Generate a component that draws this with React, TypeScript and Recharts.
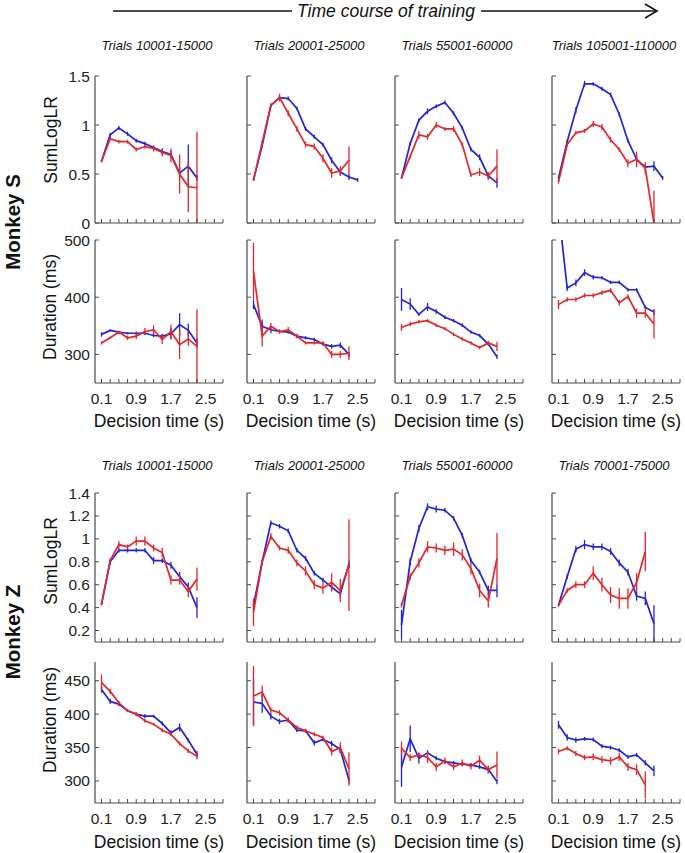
import React from 'react'
import { LineChart, Line, XAxis, YAxis, ErrorBar } from 'recharts'

// ── Style constants ───────────────────────────────────────────────────────────

const FONT = '"Liberation Sans", Arial, Helvetica, sans-serif'
const BLUE = '#2323d8'
const RED = '#e4262b'
const AXIS = '#4a4a4a'

// ── Data ──────────────────────────────────────────────────────────────────────

const DECISION_T = [0.1, 0.3, 0.5, 0.7, 0.9, 1.1, 1.3, 1.5, 1.7, 1.9, 2.1, 2.3, 2.5]
const X_TICKS = [0.1, 0.3, 0.5, 0.7, 0.9, 1.1, 1.3, 1.5, 1.7, 1.9, 2.1, 2.3, 2.5, 2.7, 2.9]
const X_LABELED = [0.1, 0.9, 1.7, 2.5]

const TRIALS_S = ['Trials 10001-15000', 'Trials 20001-25000', 'Trials 55001-60000', 'Trials 105001-110000']
const TRIALS_Z = ['Trials 10001-15000', 'Trials 20001-25000', 'Trials 55001-60000', 'Trials 70001-75000']

const LLR_S_TICKS = [0, 0.5, 1, 1.5]
const DUR_S_TICKS = [300, 400, 500]
const LLR_Z_TICKS = [0.2, 0.4, 0.6, 0.8, 1, 1.2, 1.4]
const DUR_Z_TICKS = [300, 350, 400, 450]

// Monkey S — SumLogLR (one array per column)
const S_LLR_BLUE = [
  [0.63, 0.9, 0.97, 0.91, 0.84, 0.81, 0.77, 0.73, 0.7, 0.51, 0.58, 0.46],
  [0.44, 0.79, 1.2, 1.28, 1.27, 1.17, 0.96, 0.88, 0.8, 0.64, 0.52, 0.47, 0.44],
  [0.46, 0.81, 1.05, 1.14, 1.19, 1.23, 1.12, 0.97, 0.75, 0.67, 0.48, 0.41],
  [0.46, 0.83, 1.15, 1.42, 1.42, 1.37, 1.31, 1.11, 0.84, 0.65, 0.57, 0.58, 0.46],
]
const S_LLR_BLUE_ERR = [
  [0.01, 0.02, 0.02, 0.02, 0.02, 0.02, 0.02, 0.03, 0.04, 0.06, 0.22, 0.03],
  [0.01, 0.02, 0.02, 0.02, 0.02, 0.02, 0.02, 0.02, 0.02, 0.03, 0.03, 0.03, 0.02],
  [0.01, 0.02, 0.02, 0.03, 0.02, 0.02, 0.02, 0.02, 0.02, 0.03, 0.03, 0.05],
  [0.01, 0.02, 0.03, 0.03, 0.02, 0.02, 0.02, 0.02, 0.02, 0.03, 0.03, 0.05, 0.02],
]
const S_LLR_RED = [
  [0.63, 0.86, 0.83, 0.83, 0.75, 0.78, 0.76, 0.72, 0.69, 0.5, 0.37, 0.36],
  [0.44, 0.82, 1.2, 1.28, 1.12, 0.96, 0.8, 0.78, 0.66, 0.51, 0.53, 0.64],
  [0.46, 0.68, 0.9, 0.88, 1.0, 0.96, 0.96, 0.8, 0.49, 0.52, 0.48, 0.58],
  [0.42, 0.8, 0.92, 0.94, 1.01, 0.98, 0.85, 0.75, 0.61, 0.65, 0.56, 0.0],
]
const S_LLR_RED_ERR = [
  [0.01, 0.02, 0.02, 0.02, 0.02, 0.02, 0.03, 0.04, 0.07, 0.2, 0.26, 0.57],
  [0.01, 0.02, 0.02, 0.04, 0.03, 0.03, 0.03, 0.03, 0.04, 0.05, 0.05, 0.14],
  [0.01, 0.02, 0.04, 0.03, 0.03, 0.02, 0.03, 0.02, 0.02, 0.04, 0.04, 0.17],
  [0.02, 0.02, 0.02, 0.02, 0.03, 0.03, 0.03, 0.02, 0.04, 0.08, 0.06, 0.33],
]

// Monkey S — Duration (ms)
const S_DUR_BLUE = [
  [335, 342, 339, 337, 337, 337, 333, 332, 336, 352, 342, 320],
  [387, 349, 343, 340, 339, 332, 329, 326, 318, 314, 316, 300],
  [396, 388, 370, 383, 375, 365, 359, 351, 339, 333, 318, 296],
  [553, 416, 425, 443, 435, 434, 426, 426, 413, 413, 382, 374],
]
const S_DUR_BLUE_ERR = [
  [4, 2, 2, 2, 3, 3, 3, 4, 10, 20, 12, 8],
  [8, 12, 6, 3, 3, 3, 3, 3, 3, 4, 5, 4],
  [20, 10, 3, 7, 4, 3, 3, 3, 3, 3, 3, 4],
  [5, 5, 6, 6, 4, 3, 3, 3, 3, 3, 3, 5],
]
const S_DUR_RED = [
  [320, 329, 339, 329, 332, 340, 343, 326, 340, 317, 327, 314],
  [445, 332, 349, 340, 343, 332, 320, 320, 320, 300, 300, 302],
  [347, 353, 357, 359, 351, 345, 335, 327, 320, 312, 320, 314],
  [387, 396, 396, 403, 403, 408, 412, 390, 401, 372, 372, 353],
]
const S_DUR_RED_ERR = [
  [3, 2, 3, 4, 5, 6, 8, 8, 12, 25, 12, 65],
  [50, 18, 6, 4, 5, 4, 3, 3, 3, 6, 6, 12],
  [6, 4, 3, 3, 3, 3, 3, 3, 3, 3, 4, 8],
  [8, 4, 4, 4, 4, 4, 4, 5, 4, 8, 8, 25],
]

// Monkey Z — SumLogLR
const Z_LLR_BLUE = [
  [0.43, 0.8, 0.9, 0.9, 0.9, 0.9, 0.81, 0.81, 0.77, 0.67, 0.58, 0.4],
  [0.42, 0.8, 1.14, 1.11, 1.07, 0.9, 0.83, 0.7, 0.64, 0.58, 0.52, 0.78],
  [0.25, 0.8, 1.09, 1.28, 1.26, 1.25, 1.18, 1.03, 0.81, 0.71, 0.55, 0.55],
  [0.42, 0.67, 0.91, 0.95, 0.93, 0.93, 0.89, 0.79, 0.71, 0.5, 0.48, 0.26],
]
const Z_LLR_BLUE_ERR = [
  [0.01, 0.02, 0.02, 0.02, 0.02, 0.02, 0.03, 0.02, 0.03, 0.04, 0.04, 0.09],
  [0.03, 0.02, 0.02, 0.02, 0.02, 0.02, 0.02, 0.02, 0.02, 0.03, 0.03, 0.03],
  [0.13, 0.03, 0.03, 0.03, 0.03, 0.02, 0.02, 0.02, 0.02, 0.02, 0.04, 0.06],
  [0.01, 0.02, 0.03, 0.04, 0.03, 0.03, 0.03, 0.03, 0.03, 0.04, 0.06, 0.16],
]
const Z_LLR_RED = [
  [0.43, 0.81, 0.95, 0.93, 0.98, 0.98, 0.92, 0.88, 0.64, 0.64, 0.54, 0.65],
  [0.36, 0.8, 1.02, 0.92, 0.9, 0.79, 0.72, 0.6, 0.57, 0.62, 0.55, 0.77],
  [0.42, 0.67, 0.79, 0.93, 0.92, 0.9, 0.91, 0.86, 0.74, 0.55, 0.46, 0.83],
  [0.42, 0.55, 0.6, 0.6, 0.7, 0.6, 0.51, 0.48, 0.48, 0.62, 0.89],
]
const Z_LLR_RED_ERR = [
  [0.01, 0.02, 0.03, 0.02, 0.04, 0.04, 0.03, 0.04, 0.04, 0.04, 0.05, 0.1],
  [0.12, 0.02, 0.03, 0.02, 0.03, 0.03, 0.04, 0.04, 0.05, 0.08, 0.1, 0.4],
  [0.02, 0.03, 0.04, 0.05, 0.04, 0.04, 0.06, 0.05, 0.05, 0.06, 0.06, 0.22],
  [0.01, 0.02, 0.03, 0.03, 0.06, 0.06, 0.07, 0.09, 0.09, 0.08, 0.17],
]

// Monkey Z — Duration (ms)
const Z_DUR_BLUE = [
  [437, 419, 415, 405, 400, 397, 397, 386, 372, 380, 361, 340],
  [418, 416, 397, 389, 391, 376, 375, 357, 362, 356, 347, 301],
  [321, 363, 334, 342, 334, 329, 327, 325, 324, 321, 317, 299],
  [384, 365, 361, 363, 362, 352, 350, 346, 336, 339, 327, 315],
]
const Z_DUR_BLUE_ERR = [
  [5, 4, 3, 2, 2, 3, 2, 3, 4, 6, 3, 5],
  [35, 14, 5, 4, 3, 3, 3, 4, 3, 4, 5, 5],
  [30, 20, 8, 4, 3, 3, 3, 3, 3, 3, 4, 4],
  [6, 5, 4, 3, 3, 3, 3, 3, 3, 3, 4, 8],
]
const Z_DUR_RED = [
  [447, 434, 417, 405, 400, 390, 385, 376, 370, 356, 345, 337],
  [427, 433, 406, 402, 391, 380, 375, 370, 365, 344, 350, 318],
  [349, 335, 339, 335, 321, 330, 321, 327, 322, 331, 317, 324],
  [344, 349, 341, 335, 336, 332, 330, 336, 321, 317, 294],
]
const Z_DUR_RED_ERR = [
  [12, 4, 3, 2, 3, 3, 2, 3, 3, 3, 3, 5],
  [45, 10, 4, 4, 4, 3, 3, 3, 3, 6, 8, 25],
  [10, 5, 4, 8, 6, 5, 5, 5, 5, 7, 6, 20],
  [4, 3, 4, 4, 5, 5, 6, 6, 6, 8, 20],
]

// ── Layout ────────────────────────────────────────────────────────────────────

const COL_LEFT = [95, 247, 395, 552]
const PLOT_W = 128
const ML = 42
const MT = 14
const MR = 4
const MB = 42

// error bar as [below, above], cut at the axis limits (Matlab clips to the box)
function clippedErr(v: number, e: number, domain: [number, number]): [number, number] | null {
  if (v < domain[0] || v > domain[1]) return null
  return [Math.min(e, v - domain[0]), Math.min(e, domain[1] - v)]
}

// ── Panel ─────────────────────────────────────────────────────────────────────

interface PanelProps {
  left: number
  top: number
  height: number
  domain: [number, number]
  yTicks: number[]
  blue: number[]
  blueErr: number[]
  red: number[]
  redErr: number[]
  yLabels: boolean
  xLabels: boolean
}

function Panel({ left, top, height, domain, yTicks, blue, blueErr, red, redErr, yLabels, xLabels }: PanelProps) {
  const data = DECISION_T.map((t, i) => ({
    t,
    blue: i < blue.length ? blue[i] : null,
    red: i < red.length ? red[i] : null,
    blueErr: i < blue.length ? clippedErr(blue[i], blueErr[i], domain) : null,
    redErr: i < red.length ? clippedErr(red[i], redErr[i], domain) : null,
  }))
  const bottom = MT + height

  const XTick = (p: any) => (
    <g>
      <line x1={p.x} x2={p.x} y1={bottom} y2={bottom - 4} stroke={AXIS} strokeWidth={1} />
      {xLabels && X_LABELED.includes(p.payload.value) && (
        <text x={p.x} y={bottom + 21} textAnchor="middle" fontSize={15.5} fontFamily={FONT} fill="#222">
          {String(p.payload.value)}
        </text>
      )}
    </g>
  )
  const YTick = (p: any) => (
    <g>
      <line x1={ML} x2={ML + 4} y1={p.y} y2={p.y} stroke={AXIS} strokeWidth={1} />
      {yLabels && (
        <text x={ML - 5} y={p.y + 5.5} textAnchor="end" fontSize={15.5} fontFamily={FONT} fill="#222">
          {String(p.payload.value)}
        </text>
      )}
    </g>
  )

  return (
    <div style={{ position: 'absolute', left: left - ML, top: top - MT }}>
      <LineChart
        width={ML + PLOT_W + MR}
        height={MT + height + MB}
        data={data}
        margin={{ top: MT, right: MR, bottom: 0, left: 0 }}
      >
        <XAxis
          dataKey="t"
          type="number"
          domain={[-0.05, 2.9]}
          ticks={X_TICKS}
          interval={0}
          tick={XTick}
          tickLine={false}
          axisLine={{ stroke: AXIS, strokeWidth: 1.2 }}
          height={MB}
          allowDataOverflow
        />
        <YAxis
          type="number"
          domain={domain}
          ticks={yTicks}
          interval={0}
          tick={YTick}
          tickLine={false}
          axisLine={{ stroke: AXIS, strokeWidth: 1.2 }}
          width={ML}
          allowDataOverflow
        />
        <Line dataKey="blue" stroke={BLUE} strokeWidth={1.7} dot={false} isAnimationActive={false}>
          <ErrorBar dataKey="blueErr" direction="y" width={0} stroke={BLUE} strokeWidth={1.3} isAnimationActive={false} />
        </Line>
        <Line dataKey="red" stroke={RED} strokeWidth={1.7} dot={false} isAnimationActive={false}>
          <ErrorBar dataKey="redErr" direction="y" width={0} stroke={RED} strokeWidth={1.3} isAnimationActive={false} />
        </Line>
      </LineChart>
    </div>
  )
}

// ── Rows ──────────────────────────────────────────────────────────────────────

interface RowSpec {
  top: number
  height: number
  domain: [number, number]
  yTicks: number[]
  blue: number[][]
  blueErr: number[][]
  red: number[][]
  redErr: number[][]
  xLabels: boolean
}

const ROWS: RowSpec[] = [
  { top: 76, height: 147, domain: [0, 1.5], yTicks: LLR_S_TICKS, blue: S_LLR_BLUE, blueErr: S_LLR_BLUE_ERR, red: S_LLR_RED, redErr: S_LLR_RED_ERR, xLabels: false },
  { top: 240, height: 143, domain: [250, 500], yTicks: DUR_S_TICKS, blue: S_DUR_BLUE, blueErr: S_DUR_BLUE_ERR, red: S_DUR_RED, redErr: S_DUR_RED_ERR, xLabels: true },
  { top: 493, height: 149, domain: [0.1, 1.4], yTicks: LLR_Z_TICKS, blue: Z_LLR_BLUE, blueErr: Z_LLR_BLUE_ERR, red: Z_LLR_RED, redErr: Z_LLR_RED_ERR, xLabels: false },
  { top: 662, height: 141, domain: [267, 478], yTicks: DUR_Z_TICKS, blue: Z_DUR_BLUE, blueErr: Z_DUR_BLUE_ERR, red: Z_DUR_RED, redErr: Z_DUR_RED_ERR, xLabels: true },
]

// ── Annotations (arrow, titles, axis labels) ──────────────────────────────────

function Annotations() {
  const txt = { fontFamily: FONT, fill: '#111' }
  const yLabel = (label: string, cx: number, cy: number) => (
    <text x={cx} y={cy} transform={`rotate(-90 ${cx} ${cy})`} textAnchor="middle" dominantBaseline="central" fontSize={17.5} {...txt}>
      {label}
    </text>
  )
  return (
    <svg width={685} height={853} style={{ position: 'absolute', left: 0, top: 0, pointerEvents: 'none' }}>
      {/* training arrow */}
      <line x1={113} x2={292} y1={11} y2={11} stroke="#111" strokeWidth={1.6} />
      <line x1={481} x2={657} y1={11} y2={11} stroke="#111" strokeWidth={1.6} />
      <polyline points="645,4 657,11 645,18" fill="none" stroke="#111" strokeWidth={1.6} />
      <text x={386} y={11} textAnchor="middle" dominantBaseline="central" fontSize={17.5} fontStyle="italic" {...txt}>
        Time course of training
      </text>

      {TRIALS_S.map((t, i) => (
        <text key={'s' + i} x={COL_LEFT[i] + 62} y={45} textAnchor="middle" dominantBaseline="central" fontSize={13} fontStyle="italic" {...txt}>
          {t}
        </text>
      ))}
      {TRIALS_Z.map((t, i) => (
        <text key={'z' + i} x={COL_LEFT[i] + 62} y={465} textAnchor="middle" dominantBaseline="central" fontSize={13} fontStyle="italic" {...txt}>
          {t}
        </text>
      ))}

      <text x={12} y={222} transform="rotate(-90 12 222)" textAnchor="middle" dominantBaseline="central" fontSize={20.5} fontWeight="bold" {...txt}>
        Monkey S
      </text>
      <text x={12} y={632} transform="rotate(-90 12 632)" textAnchor="middle" dominantBaseline="central" fontSize={20.5} fontWeight="bold" {...txt}>
        Monkey Z
      </text>

      {yLabel('SumLogLR', 51, 140)}
      {yLabel('Duration (ms)', 50, 307)}
      {yLabel('SumLogLR', 51, 561)}
      {yLabel('Duration (ms)', 50, 720)}

      {COL_LEFT.map((l, i) => (
        <React.Fragment key={'xl' + i}>
          <text x={l + 64} y={421} textAnchor="middle" dominantBaseline="central" fontSize={17.5} {...txt}>
            Decision time (s)
          </text>
          <text x={l + 64} y={842} textAnchor="middle" dominantBaseline="central" fontSize={17.5} {...txt}>
            Decision time (s)
          </text>
        </React.Fragment>
      ))}
    </svg>
  )
}

// ── App ───────────────────────────────────────────────────────────────────────

export default function App() {
  return (
    <div style={{ position: 'absolute', left: 0, top: 0, width: 685, height: 853, background: '#fff', overflow: 'hidden' }}>
      {ROWS.map((row, r) =>
        COL_LEFT.map((left, c) => (
          <Panel
            key={`${r}-${c}`}
            left={left}
            top={row.top}
            height={row.height}
            domain={row.domain}
            yTicks={row.yTicks}
            blue={row.blue[c]}
            blueErr={row.blueErr[c]}
            red={row.red[c]}
            redErr={row.redErr[c]}
            yLabels={c === 0}
            xLabels={row.xLabels}
          />
        ))
      )}
      <Annotations />
    </div>
  )
}
